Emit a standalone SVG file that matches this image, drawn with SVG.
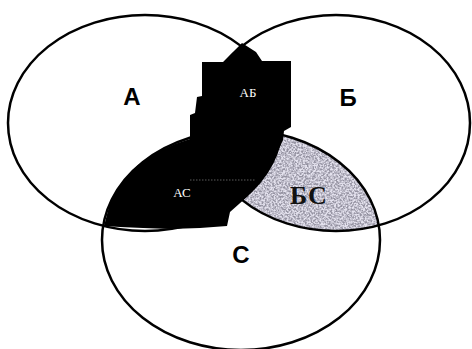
<svg xmlns="http://www.w3.org/2000/svg" width="472" height="349" viewBox="0 0 472 349">
  <style>
    .ring { fill: none; stroke: #000; stroke-width: 2.5; }
    .big { font-family: "Liberation Sans", Arial, sans-serif; font-weight: bold; font-size: 24px; fill: #000; text-anchor: middle; }
    .small { font-family: "Liberation Serif", "Times New Roman", serif; font-size: 13px; fill: #fff; text-anchor: middle; }
    .bc { font-family: "Liberation Serif", "Times New Roman", serif; font-weight: bold; font-size: 26px; fill: #111; text-anchor: middle; letter-spacing: 1px; }
  </style>
  <defs>
    <clipPath id="clipB"><ellipse cx="336" cy="123" rx="134" ry="108"/></clipPath>
    <clipPath id="clipC"><ellipse cx="241" cy="240" rx="139" ry="110"/></clipPath>
    <filter id="speckle" x="0" y="0" width="100%" height="100%" filterUnits="objectBoundingBox">
      <feTurbulence type="fractalNoise" baseFrequency="0.55" numOctaves="2" seed="7" result="n"/>
      <feColorMatrix in="n" type="matrix" values="0 0 0 0 0.30  0 0 0 0 0.29  0 0 0 0 0.36  -3 0 0 0 1.95"/>
    </filter>
  </defs>
  <rect width="472" height="349" fill="#fff"/>

  <g id="region-BC">
    <g clip-path="url(#clipB)">
      <g clip-path="url(#clipC)">
        <rect x="200" y="120" width="200" height="130" fill="#e4e2ee"/>
        <rect x="200" y="120" width="200" height="130" filter="url(#speckle)"/>
      </g>
    </g>
    <ellipse cx="145" cy="123" rx="137" ry="108" fill="#fff"/>
  </g>

  <g id="circle-A"><ellipse class="ring" cx="145" cy="123" rx="137" ry="108"/></g>
  <g id="circle-B"><ellipse class="ring" cx="336" cy="123" rx="134" ry="108"/></g>
  <g id="circle-C"><ellipse class="ring" cx="241" cy="240" rx="139" ry="110"/></g>

  <g id="region-AB-AC">
    <polygon fill="#000" points="242,43 256,52 262,61 291,61 291,127 284,131 283,140 276,155 268,170 258,184 248,196 239,204 230,212 227,226 200,228 170,229 143,228 120,227 104,226 110,203 120,186 130,174 138,165 143,162 160,151 175,144 190,139 190,115 195,113 197,97 202,96 202,62 223,62 233,52"/>
    <line x1="190" y1="180" x2="255" y2="180" stroke="#5a5a5a" stroke-width="1" stroke-dasharray="1.5 1.5"/>
  </g>

  <g id="labels">
    <text class="big" x="132" y="105">А</text>
    <text class="big" x="348" y="106">Б</text>
    <text class="big" x="241" y="263">С</text>
    <text class="small" x="248" y="97">АБ</text>
    <text class="small" x="182" y="197">АС</text>
    <text class="bc" x="309" y="204">БС</text>
  </g>
</svg>
